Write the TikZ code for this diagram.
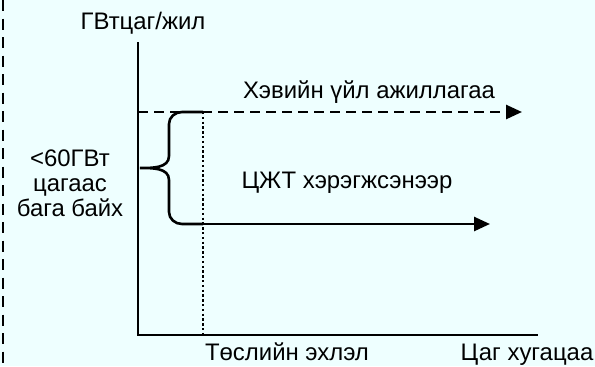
\documentclass[tikz,border=0pt]{standalone}
\usepackage{fontspec}
\setmainfont{Liberation Sans}
\usetikzlibrary{arrows.meta}
\definecolor{bgcyan}{HTML}{EEFFFF}

\begin{document}
\begin{tikzpicture}[x=1bp,y=1bp,
		axisline/.style={line width=2.6bp},
		lbl/.style={font=\fontsize{24}{25}\selectfont,anchor=base},
		arr/.style={-{Triangle[length=16bp,width=14bp]}}]
			\fill[bgcyan] (0,0) rectangle (595,366);
			\useasboundingbox (0,0) rectangle (595,366);
			\draw[line width=2.6bp,dash pattern=on 11bp off 7.5bp] (3,366) -- (3,0);
			% axes
			\coordinate (O) at (138,31);
			\coordinate (ytop) at (138,324);
			\coordinate (xend) at (538,31);
			\draw[axisline] (ytop) -- (O) -- (xend);
			\node[lbl] (ylab) at (143,337) {ГВтцаг/жил};
			\node[lbl] (start) at (287,5.5) {Төслийн эхлэл};
			\node[lbl] (time) at (527,5.5) {Цаг хугацаа};
			% dashed line
			\coordinate (nA) at (138,254);
			\coordinate (nB) at (522,254);
			\draw[axisline,arr,dash pattern=on 10bp off 6bp] (nA) -- (nB);
			\node[lbl] (normal) at (369,268) {Хэвийн үйл ажиллагаа};
			% project start
			\coordinate (pT) at (203,254);
			\coordinate (pB) at (203,31);
			\coordinate (pM) at (203,142);
			\coordinate (cEnd) at (490,142);
			\draw[line width=2.4bp,dash pattern=on 2.4bp off 2.4bp] (pT) -- (pB);
			\draw[axisline,arr] (pM) -- (cEnd);
			\node[lbl] (ccs) at (347,178) {ЦЖТ хэрэгжсэнээр};
			% brace
			\draw[axisline] (pT) -- (182,254) to[out=180,in=90] (169,242) -- (169,210)
				to[out=270,in=0] (140,198) to[out=0,in=90] (169,186) -- (169,154)
				to[out=270,in=180] (182,142) -- (pM);
			\node[lbl,anchor=center,align=center] (less) at (70,183) {<60ГВт\\цагаас\\бага байх};
		\end{tikzpicture}
\end{document}
